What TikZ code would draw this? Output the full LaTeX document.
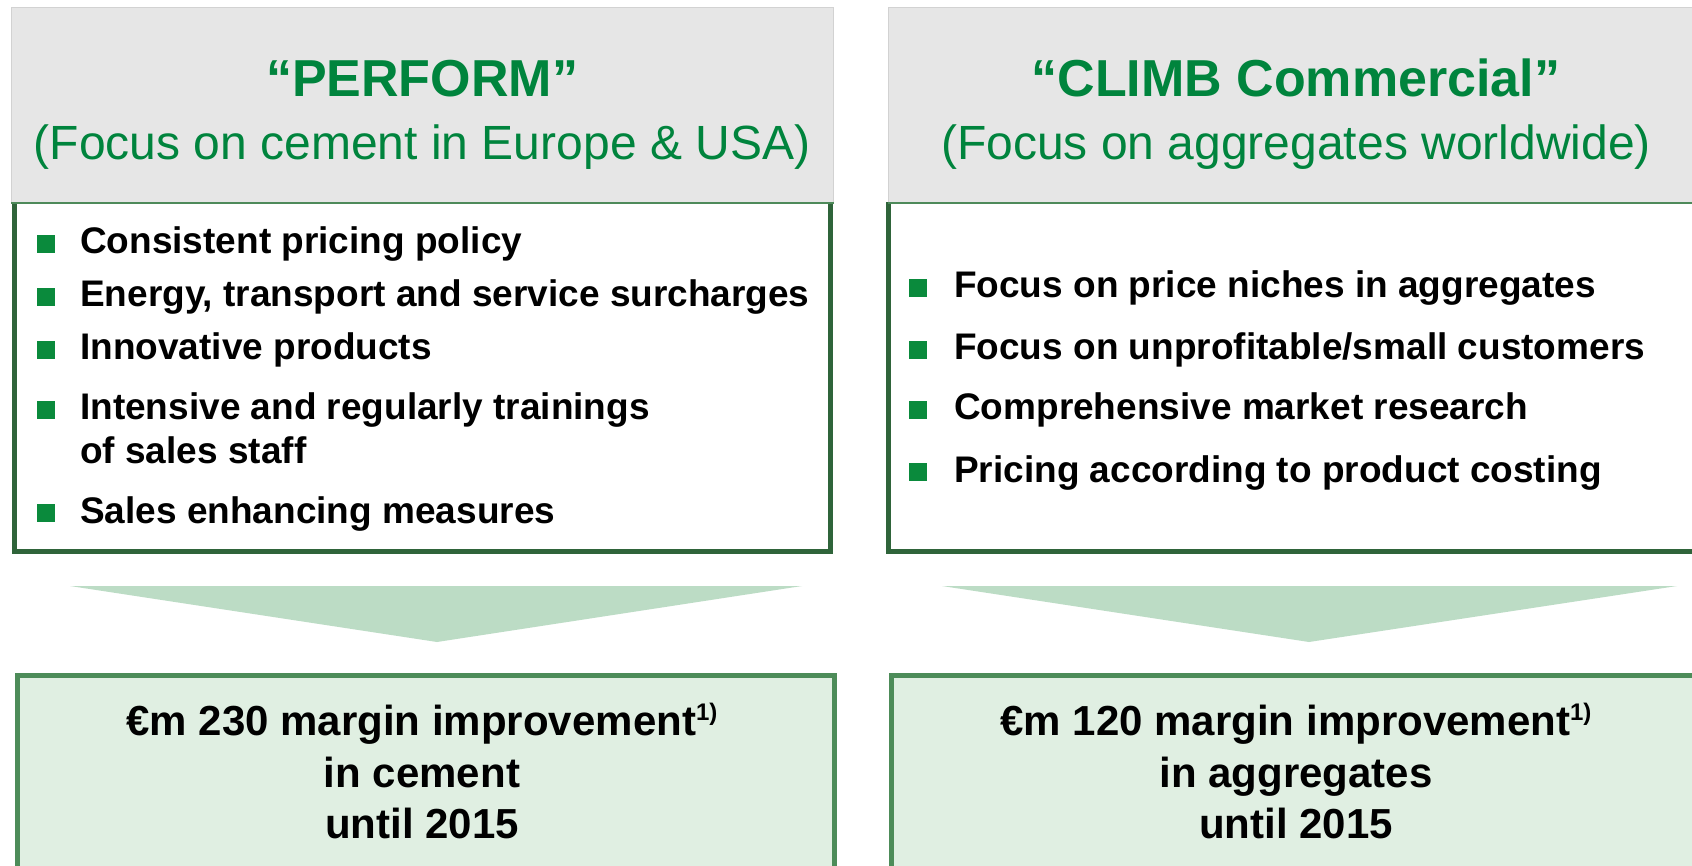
\documentclass[tikz,border=0pt]{standalone}
\usepackage{fontspec}
\setmainfont{Liberation Sans}
\definecolor{hdrgray}{HTML}{E6E6E6}
\definecolor{hdrline}{HTML}{D2D2D2}
\definecolor{titlegreen}{HTML}{00843D}
\definecolor{bulgreen}{HTML}{0A8A3C}
\definecolor{bodyline}{HTML}{2F643A}
\definecolor{topline}{HTML}{4E8A5A}
\definecolor{arrowfill}{HTML}{BCDCC5}
\definecolor{resfill}{HTML}{E0EFE2}
\definecolor{resline}{HTML}{4D8C59}
\begin{document}
\begin{tikzpicture}[x=1pt,y=-1pt,
  hdr/.style={fill=hdrgray,draw=hdrline,line width=1pt,inner sep=0pt,anchor=north west,minimum width=822pt,minimum height=195pt},
  bodybox/.style={fill=white,draw=none,inner sep=0pt,anchor=north west,minimum width=816pt,minimum height=349.5pt},
  resbox/.style={fill=resfill,draw=resline,line width=5pt,inner sep=0pt,anchor=north west,minimum width=817pt,minimum height=260pt},
  ttl/.style={anchor=base,text=titlegreen,font=\fontsize{52}{60}\selectfont\bfseries,inner sep=0pt},
  sub/.style={anchor=base,text=titlegreen,font=\fontsize{48}{56}\selectfont,inner sep=0pt},
  bul/.style={fill=bulgreen,draw=none,minimum size=18pt,inner sep=0pt},
  item/.style={anchor=base west,font=\fontsize{37}{43}\selectfont\bfseries,inner sep=0pt},
  res/.style={anchor=base,font=\fontsize{42}{50}\selectfont\bfseries,inner sep=0pt},
  tri/.style={fill=arrowfill,draw=none}
]
\clip (0,0) rectangle (1692,866);
\fill[white] (0,0) rectangle (1692,866);

% ---------- left column ----------
\node[bodybox] (bodyL) at (14.5,202) {};
\draw[bodyline,line width=5pt,line join=miter] (bodyL.north west) -- (bodyL.south west) -- (bodyL.south east) -- (bodyL.north east);
\node[hdr] (hdrL) at (11,7) {};
\draw[topline,line width=2pt] (hdrL.south west) -- (hdrL.south east);
\node[ttl] (ttlL) at (422,97) {“PERFORM”};
\node[sub] (subL) at (422,160) {(Focus on cement in Europe \& USA)};

\node[bul] (bL1) at (46,244) {};
\node[item] (tL1) at (80,254) {Consistent pricing policy};
\node[bul] (bL2) at (46,297) {};
\node[item] (tL2) at (80,307) {Energy, transport and service surcharges};
\node[bul] (bL3) at (46,350) {};
\node[item] (tL3) at (80,360) {Innovative products};
\node[bul] (bL4) at (46,410) {};
\node[item] (tL4) at (80,420) {Intensive and regularly trainings};
\node[item] (tL4b) at (80,463) {of sales staff};
\node[bul] (bL5) at (46,513) {};
\node[item] (tL5) at (80,523) {Sales enhancing measures};

\coordinate (aL1) at (70,586);
\coordinate (aL2) at (802,586);
\coordinate (aL3) at (437,642);
\fill[tri] (aL1) -- (aL2) -- (aL3) -- cycle;

\node[resbox] (resL) at (14.5,673) {};
\node[res] (rL1) at (422,735) {€m 230 margin improvement\raisebox{15pt}{\fontsize{24}{24}\selectfont 1)}};
\node[res] (rL2) at (422,787) {in cement};
\node[res] (rL3) at (422,838) {until 2015};

% ---------- right column ----------
\node[bodybox] (bodyR) at (888.5,202) {};
\draw[bodyline,line width=5pt,line join=miter] (bodyR.north west) -- (bodyR.south west) -- (bodyR.south east) -- (bodyR.north east);
\node[hdr] (hdrR) at (888,7) {};
\draw[topline,line width=2pt] (hdrR.south west) -- (hdrR.south east);
\node[ttl] (ttlR) at (1296,97) {“CLIMB Commercial”};
\node[sub] (subR) at (1296,160) {(Focus on aggregates worldwide)};

\node[bul] (bR1) at (918,288) {};
\node[item] (tR1) at (954,298) {Focus on price niches in aggregates};
\node[bul] (bR2) at (918,350) {};
\node[item] (tR2) at (954,360) {Focus on unprofitable/small customers};
\node[bul] (bR3) at (918,410) {};
\node[item] (tR3) at (954,420) {Comprehensive market research};
\node[bul] (bR4) at (918,472) {};
\node[item] (tR4) at (954,482) {Pricing according to product costing};

\coordinate (aR1) at (942,586);
\coordinate (aR2) at (1677,586);
\coordinate (aR3) at (1309,642);
\fill[tri] (aR1) -- (aR2) -- (aR3) -- cycle;

\node[resbox] (resR) at (888.5,673) {};
\node[res] (rR1) at (1296,735) {€m 120 margin improvement\raisebox{15pt}{\fontsize{24}{24}\selectfont 1)}};
\node[res] (rR2) at (1296,787) {in aggregates};
\node[res] (rR3) at (1296,838) {until 2015};
\end{tikzpicture}
\end{document}
